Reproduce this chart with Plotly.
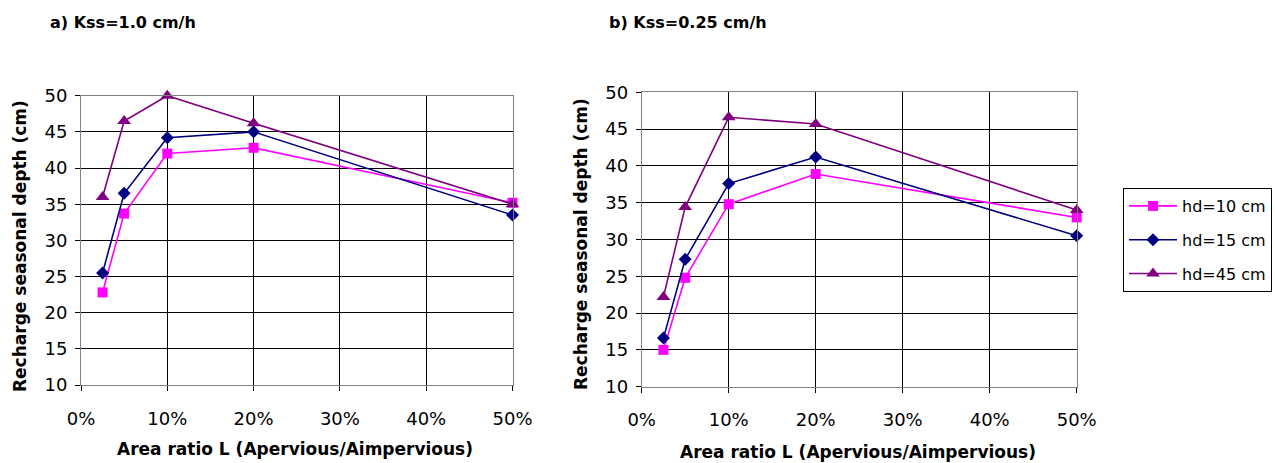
import plotly.graph_objects as go

x_ratio = [0.025, 0.05, 0.10, 0.20, 0.50]
series_names = ["hd=10 cm", "hd=15 cm", "hd=45 cm"]

a_hd10 = [22.8, 33.7, 42.0, 42.8, 35.2]
a_hd15 = [25.5, 36.5, 44.2, 45.0, 33.5]
a_hd45 = [36.0, 46.5, 50.0, 46.2, 35.0]

b_hd10 = [15.0, 24.8, 34.8, 38.9, 33.0]
b_hd15 = [16.6, 27.3, 37.6, 41.2, 30.5]
b_hd45 = [22.2, 34.4, 46.6, 45.7, 34.0]

titles = ["a) Kss=1.0 cm/h", "b) Kss=0.25 cm/h"]
x_title = "Area ratio L (Apervious/Aimpervious)"
y_title = "Recharge seasonal depth (cm)"

colors = ["#FF00FF", "#000080", "#800080"]
symbols = ["square", "diamond", "triangle-up"]
msizes = [10, 10, 12]

W, H = 1275, 463
FONT = "DejaVu Sans, Arial, sans-serif"

fig = go.Figure()
panels = [(a_hd10, a_hd15, a_hd45), (b_hd10, b_hd15, b_hd45)]
for p, data in enumerate(panels):
    xa = "x" if p == 0 else "x2"
    ya = "y" if p == 0 else "y2"
    for i, vals in enumerate(data):
        fig.add_trace(go.Scatter(
            x=x_ratio, y=vals, mode="lines+markers", name=series_names[i],
            line=dict(color=colors[i], width=1.6),
            marker=dict(symbol=symbols[i], size=msizes[i], color=colors[i]),
            xaxis=xa, yaxis=ya, showlegend=(p == 1), legendgroup=series_names[i],
            cliponaxis=False,
        ))

def px_x(v):
    return v / W

def px_y(v):
    return 1 - v / H

axis_common = dict(showgrid=True, gridcolor="#000000", gridwidth=1,
                   showline=True, linecolor="#808080", linewidth=1, mirror=True,
                   ticks="outside", ticklen=5, tickcolor="#000000", automargin=False,
                   zeroline=False, tickfont=dict(family=FONT, size=18, color="#000"))

doms = [((81, 512.5), (95.7, 385)), ((641.7, 1076.7), (92.3, 386.7))]
for p, ((x0, x1), (y0, y1)) in enumerate(doms):
    sfx = "" if p == 0 else "2"
    fig.layout["xaxis" + sfx] = dict(axis_common, domain=[px_x(x0), px_x(x1)],
                                     range=[0, 0.5], dtick=0.1, tickformat=".0%",
                                     anchor="y" + sfx, ticklabelstandoff=12)
    fig.layout["yaxis" + sfx] = dict(axis_common, domain=[px_y(y1), px_y(y0)],
                                     range=[10, 50], dtick=5,
                                     anchor="x" + sfx, ticklabelstandoff=4)

ann = []
bold = dict(family=FONT, size=16, color="#000")
ann.append(dict(text="<b>" + titles[0] + "</b>", x=px_x(48), y=px_y(22), xref="paper", yref="paper",
                xanchor="left", yanchor="middle", showarrow=False, font=bold))
ann.append(dict(text="<b>" + titles[1] + "</b>", x=px_x(607), y=px_y(22), xref="paper", yref="paper",
                xanchor="left", yanchor="middle", showarrow=False, font=bold))
tfont = dict(family=FONT, size=17, color="#000")
for cx, cy in [(295, 449), (858, 452)]:
    ann.append(dict(text="<b>" + x_title + "</b>", x=px_x(cx), y=px_y(cy), xref="paper", yref="paper",
                    xanchor="center", yanchor="middle", showarrow=False, font=tfont))
for cx, cy in [(20, 246), (581, 244)]:
    ann.append(dict(text="<b>" + y_title + "</b>", x=px_x(cx), y=px_y(cy), xref="paper", yref="paper",
                    xanchor="center", yanchor="middle", showarrow=False, font=tfont, textangle=-90))

fig.update_layout(
    width=W, height=H, margin=dict(l=0, r=0, t=0, b=0, autoexpand=False),
    paper_bgcolor="white", plot_bgcolor="white",
    annotations=ann,
    legend=dict(x=px_x(1123), y=px_y(188), xanchor="left", yanchor="top",
                bordercolor="#000000", borderwidth=1, bgcolor="white",
                font=dict(family=FONT, size=16, color="#000"), itemwidth=48,
                traceorder="grouped", tracegroupgap=10),
)

fig.write_html("out.html", config={"displayModeBar": False},
               post_script="document.body.style.margin='0px';document.body.style.overflow='hidden';")
